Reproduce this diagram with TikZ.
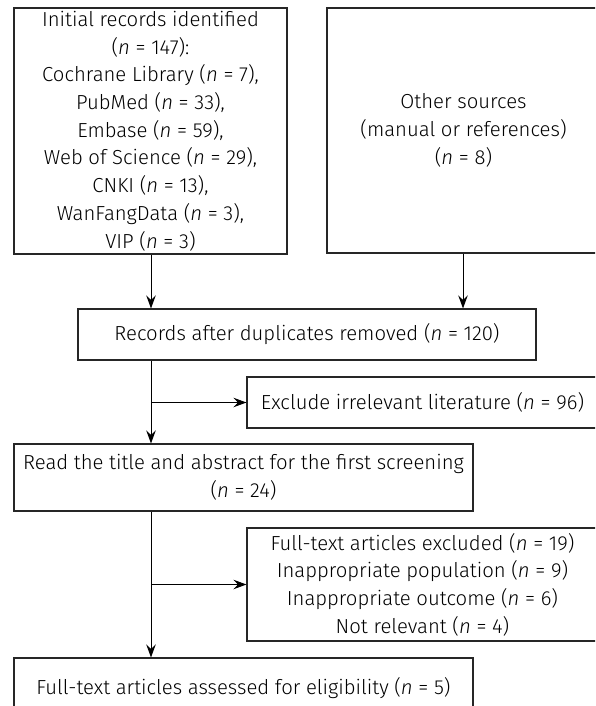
\documentclass[tikz,border=0pt]{standalone}
\usepackage{fontspec}
\setmainfont{Fira Sans Light}[ItalicFont={Fira Sans Light Italic}]
\usetikzlibrary{arrows.meta}
\newcommand{\nn}{\textit{n}}
\begin{document}
\begin{tikzpicture}[x=1pt,y=-1pt,
  box/.style={draw=black!85,line width=1.1pt,align=center,inner sep=0pt,
    font=\fontsize{20.3}{27.7}\selectfont},
  arr/.style={draw=black,line width=1pt,-{Stealth[length=13pt,width=9.5pt,inset=4.5pt]}}]
\useasboundingbox (0,0) rectangle (595,706);
\clip (0,0) rectangle (595,706);
\node[box,minimum width=273pt,minimum height=246pt] (b1) at (150.5,131)
  {Initial records identified\\(\nn{} = 147):\\Cochrane Library (\nn{} = 7),\\PubMed (\nn{} = 33),\\Embase (\nn{} = 59),\\Web of Science (\nn{} = 29),\\CNKI (\nn{} = 13),\\WanFangData (\nn{} = 3),\\VIP (\nn{} = 3)};
\node[box,minimum width=273pt,minimum height=245pt] (b2) at (463.5,130.5)
  {Other sources\\(manual or references)\\(\nn{} = 8)};
\node[box,minimum width=458pt,minimum height=51pt] (rec) at (307,334.5)
  {Records after duplicates removed (\nn{} = 120)};
\node[box,minimum width=351pt,minimum height=51pt] (ex1) at (422.5,402.5)
  {Exclude irrelevant literature (\nn{} = 96)};
\node[box,minimum width=459pt,minimum height=67pt] (read) at (243.5,477.5)
  {Read the title and abstract for the first screening\\(\nn{} = 24)};
\node[box,minimum width=351pt,minimum height=113pt] (ex2) at (422.5,584.5)
  {Full-text articles excluded (\nn{} = 19)\\Inappropriate population (\nn{} = 9)\\Inappropriate outcome (\nn{} = 6)\\Not relevant (\nn{} = 4)};
\node[box,minimum width=459pt,minimum height=56pt,text depth=0pt] (fin) at (243.5,686)
  {Full-text articles assessed for eligibility (\nn{} = 5)};
\coordinate (ax) at (151,0);
\draw[arr] (ax |- b1.south) -- (ax |- rec.north);
\draw[arr] (463,0 |- b2.south) -- (463,0 |- rec.north);
\draw[arr] (ax |- rec.south) -- (ax |- read.north);
\coordinate (j1) at (ax |- ex1.west);
\draw[arr] (j1) -- (ex1.west);
\draw[arr] (ax |- read.south) -- (ax |- fin.north);
\coordinate (j2) at (ax |- ex2.west);
\draw[arr] (j2) -- (ex2.west);
\end{tikzpicture}
\end{document}
